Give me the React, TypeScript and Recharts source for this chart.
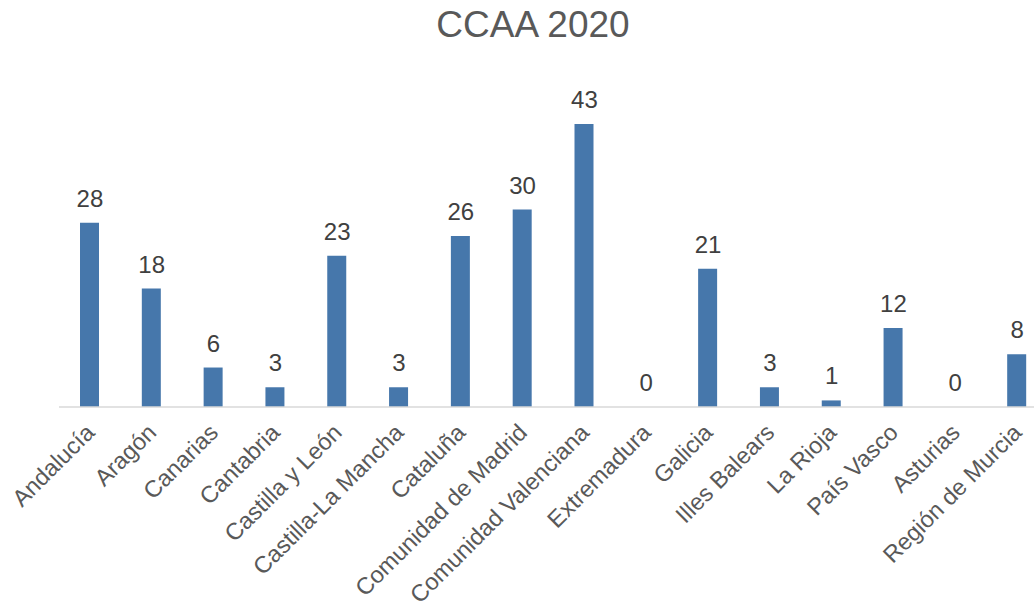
import React from "react";
import { ComposedChart, Bar, Line, XAxis, YAxis, LabelList } from "recharts";

const categories = [
  "Andalucía",
  "Aragón",
  "Canarias",
  "Cantabria",
  "Castilla y León",
  "Castilla-La Mancha",
  "Cataluña",
  "Comunidad de Madrid",
  "Comunidad Valenciana",
  "Extremadura",
  "Galicia",
  "Illes Balears",
  "La Rioja",
  "País Vasco",
  "Asturias",
  "Región de Murcia",
];
const values = [28, 18, 6, 3, 23, 3, 26, 30, 43, 0, 21, 3, 1, 12, 0, 8];

const data = categories.map((name, i) => ({ name, value: values[i] }));

const FONT = "Liberation Sans, Arial, sans-serif";

const Tick = (props: any) => {
  const { x, y, payload } = props;
  return (
    <g transform={`translate(${x + 6},${y + 19})`}>
      <text
        transform="rotate(-45)"
        textAnchor="end"
        fill="#595959"
        fontSize={23.5}
        fontFamily={FONT}
      >
        {payload.value}
      </text>
    </g>
  );
};

export default function App() {
  return (
    <div
      style={{
        position: "absolute",
        left: 0,
        top: 0,
        width: 1034,
        height: 609,
        overflow: "hidden",
        background: "#fff",
      }}
    >
      <div
        style={{
          position: "absolute",
          left: 0,
          top: 4,
          width: 1034,
          textAlign: "center",
          fontFamily: FONT,
          fontSize: 37,
          color: "#595959",
          paddingLeft: 32,
          boxSizing: "border-box",
        }}
      >
        CCAA 2020
      </div>
      <div style={{ position: "absolute", left: 0, top: 0 }}>
        <ComposedChart
          width={1048}
          height={609}
          data={data}
          margin={{ top: 78, right: 0, left: 59, bottom: 2 }}
          barCategoryGap={0}
        >
          <YAxis hide domain={[0, 50]} />
          <XAxis
            dataKey="name"
            height={200}
            interval={0}
            tickLine={false}
            axisLine={{ stroke: "#d9d9d9", strokeWidth: 1.5 }}
            tick={<Tick />}
          />
          <Bar
            dataKey="value"
            fill="#4677ab"
            barSize={19}
            isAnimationActive={false}
          />
          <Line
            dataKey="value"
            stroke="none"
            dot={false}
            activeDot={false}
            isAnimationActive={false}
          >
            <LabelList
              dataKey="value"
              position="top"
              offset={16}
              fill="#404040"
              fontSize={24}
              fontFamily={FONT}
            />
          </Line>
        </ComposedChart>
      </div>
    </div>
  );
}
